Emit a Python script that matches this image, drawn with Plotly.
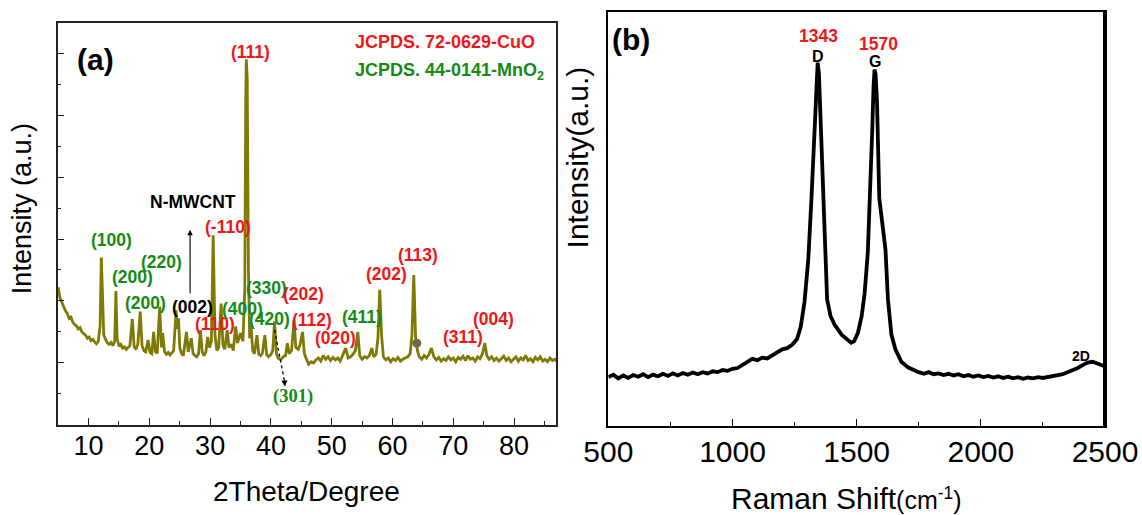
import plotly.graph_objects as go

# ---- (a) XRD pattern ----
xrd_two_theta = [
    5.0, 5.3, 5.6, 5.9, 6.2, 6.5, 6.8, 7.1, 7.4, 7.7,
    8.0, 8.3, 8.6, 8.9, 9.2, 9.5, 9.8, 10.1, 10.4, 10.7,
    11.0, 11.3, 11.6, 11.9, 12.1, 12.3, 12.5, 12.8, 13.1, 13.4,
    13.7, 14.0, 14.3, 14.5, 14.7, 15.0, 15.3, 15.6, 15.9, 16.2,
    16.5, 16.8, 17.2, 17.5, 17.8, 18.1, 18.5, 18.8, 19.1, 19.4,
    19.8, 20.1, 20.4, 20.7, 21.0, 21.3, 21.7, 22.0, 22.2, 22.5,
    22.8, 23.1, 23.4, 23.7, 24.0, 24.4, 24.6, 24.8, 25.0, 25.3,
    25.6, 26.1, 26.4, 26.9, 27.2, 27.5, 27.8, 28.1, 28.4, 28.7,
    29.0, 29.3, 29.6, 29.9, 30.2, 30.5, 30.8, 31.1, 31.4, 31.8,
    32.1, 32.4, 32.8, 33.1, 33.5, 33.8, 34.2, 34.5, 35.0, 35.4,
    35.7, 35.85, 35.95, 36.1, 36.3, 36.5, 36.7, 37.0, 37.3, 37.7,
    38.0, 38.3, 38.6, 39.0, 39.3, 39.6, 40.0, 40.3, 40.6, 40.9,
    41.2, 41.6, 42.0, 42.4, 42.7, 43.0, 43.4, 43.8, 44.1, 44.5,
    44.8, 45.2, 45.5, 45.9, 46.2, 46.6, 47.0, 47.4, 47.8, 48.2,
    48.6, 49.0, 49.4, 49.8, 50.2, 50.6, 51.0, 51.4, 51.8, 52.3,
    52.7, 53.1, 53.5, 53.9, 54.3, 54.6, 55.0, 55.4, 55.8, 56.2,
    56.6, 56.9, 57.3, 57.6, 57.9, 58.2, 58.5, 58.9, 59.3, 59.7,
    60.1, 60.5, 60.9, 61.3, 61.7, 62.1, 62.5, 62.9, 63.2, 63.5,
    63.8, 64.1, 64.4, 64.8, 65.2, 65.6, 66.0, 66.4, 66.8, 67.2,
    67.6, 68.0, 68.4, 68.8, 69.2, 69.6, 70.0, 70.4, 70.8, 71.2,
    71.6, 72.0, 72.4, 72.8, 73.2, 73.6, 74.0, 74.4, 74.8, 75.2,
    75.5, 75.9, 76.3, 76.7, 77.1, 77.5, 77.9, 78.3, 78.7, 79.1,
    79.5, 79.9, 80.3, 80.7, 81.1, 81.5, 81.9, 82.3, 82.7, 83.1,
    83.5, 83.9, 84.3, 84.7, 85.1, 85.5, 85.9, 86.3, 86.7, 87.0,
]
xrd_intensity = [
    2.22, 2.05, 1.98, 1.90, 1.84, 1.80, 1.72, 1.74, 1.66, 1.62,
    1.60, 1.55, 1.57, 1.50, 1.47, 1.45, 1.40, 1.42, 1.36, 1.38,
    1.34, 1.31, 1.35, 1.60, 2.70, 1.90, 1.45, 1.38, 1.32, 1.30,
    1.33, 1.28, 1.35, 2.16, 1.40, 1.27, 1.30, 1.24, 1.26, 1.22,
    1.25, 1.28, 1.71, 1.26, 1.22, 1.30, 1.83, 1.28, 1.20, 1.18,
    1.37, 1.17, 1.15, 1.50, 1.18, 1.16, 1.91, 1.25, 1.48, 1.18,
    1.14, 1.17, 1.13, 1.16, 1.20, 1.85, 1.55, 1.72, 1.25, 1.15,
    1.12, 1.50, 1.18, 1.40, 1.15, 1.12, 1.10, 1.15, 1.53, 1.18,
    1.12, 1.18, 1.42, 1.25, 1.35, 3.06, 1.45, 1.20, 1.25, 1.96,
    1.30, 1.22, 1.53, 1.25, 1.30, 1.20, 1.59, 1.32, 1.48, 1.35,
    2.20, 5.20, 5.90, 5.60, 2.50, 1.40, 1.64, 1.20, 1.15, 1.45,
    1.14, 1.12, 1.16, 1.45, 1.13, 1.10, 1.14, 1.20, 1.67, 1.15,
    1.08, 1.05, 1.10, 1.12, 1.32, 1.15, 1.20, 1.69, 1.25, 1.22,
    1.30, 1.50, 1.15, 1.05, 0.98, 1.02, 1.00, 1.05, 1.08, 1.03,
    1.12, 1.06, 1.10, 1.04, 1.09, 1.05, 1.08, 1.03, 1.12, 1.24,
    1.08, 1.10, 1.14, 1.20, 1.50, 1.12, 1.06, 1.10, 1.08, 1.12,
    1.24, 1.10, 1.14, 1.40, 2.18, 1.45, 1.10, 1.05, 1.08, 1.02,
    1.07, 1.04, 1.09, 1.03, 1.06, 1.08, 1.10, 1.15, 1.45, 2.42,
    1.40, 1.20, 1.10, 1.06, 1.12, 1.08, 1.14, 1.24, 1.10, 1.05,
    1.09, 1.03, 1.07, 1.04, 1.10, 1.05, 1.08, 1.02, 1.09, 1.06,
    1.11, 1.04, 1.12, 1.06, 1.08, 1.03, 1.10, 1.07, 1.15, 1.32,
    1.12, 1.06, 1.10, 1.04, 1.08, 1.03, 1.07, 1.11, 1.04, 1.08,
    1.02, 1.06, 1.10, 1.03, 1.08, 1.05, 1.12, 1.04, 1.07, 1.02,
    1.09, 1.05, 1.10, 1.03, 1.06, 1.02, 1.08, 1.04, 1.06, 1.03,
]
dot_two_theta = [64.0]
dot_intensity = [1.32]

# ---- (b) Raman spectrum ----
raman_shift = [
    500, 520, 540, 560, 580, 600, 620, 640, 660, 680,
    700, 720, 740, 760, 780, 800, 820, 840, 860, 880,
    900, 920, 940, 960, 980, 1000, 1020, 1040, 1060, 1080,
    1100, 1120, 1140, 1160, 1180, 1200, 1220, 1240, 1260, 1275,
    1290, 1305, 1318, 1330, 1338, 1343, 1348, 1356, 1364, 1371,
    1381, 1395, 1411, 1440, 1460, 1478, 1490, 1505, 1520, 1532,
    1545, 1555, 1563, 1568, 1572, 1576, 1582, 1591, 1603, 1616,
    1626, 1640, 1656, 1680, 1708, 1730, 1750, 1770, 1790, 1810,
    1830, 1850, 1870, 1890, 1910, 1930, 1950, 1970, 1990, 2010,
    2030, 2050, 2070, 2090, 2110, 2130, 2150, 2170, 2190, 2210,
    2230, 2250, 2270, 2290, 2310, 2330, 2350, 2370, 2390, 2410,
    2430, 2450, 2470, 2490, 2500,
]
raman_intensity = [
    11.8, 12.4, 11.5, 12.2, 11.6, 12.3, 11.9, 12.5, 11.8, 12.4,
    12.0, 12.6, 12.1, 12.7, 12.2, 12.8, 12.4, 12.9, 12.5, 13.0,
    12.7, 13.2, 13.0, 13.5, 13.3, 13.8, 14.0, 14.8, 15.5, 16.2,
    15.9, 16.5, 16.3, 17.0, 17.6, 18.5, 18.8, 19.6, 21.0, 24.0,
    30.0, 40.0, 55.0, 72.0, 84.0, 87.7, 85.0, 72.0, 55.0, 42.0,
    30.5, 26.5, 24.5, 22.0, 21.0, 20.1, 20.5, 22.5, 26.5, 32.0,
    42.0, 56.0, 72.0, 82.0, 86.0, 85.0, 78.0, 55.0, 48.5, 42.6,
    30.5, 22.0, 18.5, 15.5, 14.1, 13.4, 13.0, 12.6, 13.0, 12.5,
    12.7, 12.3, 12.6, 12.2, 12.5, 12.0, 12.3, 11.9, 12.2, 11.8,
    12.1, 11.7, 12.0, 11.6, 11.9, 11.5, 11.8, 11.4, 11.7, 11.5,
    11.8, 11.6, 11.9, 12.0, 12.3, 12.5, 13.0, 13.4, 14.0, 14.7,
    15.3, 15.5, 15.0, 14.6, 14.5,
]

SANS = "Liberation Sans, Arial, sans-serif"
SERIF = "Liberation Serif, Times New Roman, serif"
OLIVE = "#7f7a05"
RED = "#f21616"
GREEN = "#148a14"

fig = go.Figure()
fig.add_trace(go.Scatter(x=xrd_two_theta, y=xrd_intensity, mode="lines",
                         line=dict(color=OLIVE, width=2.8), xaxis="x", yaxis="y",
                         showlegend=False, hoverinfo="skip"))
fig.add_trace(go.Scatter(x=dot_two_theta, y=dot_intensity, mode="markers",
                         marker=dict(color="#6d6b45", size=9), xaxis="x", yaxis="y",
                         showlegend=False, hoverinfo="skip"))
# dotted pointer to (301)
fig.add_trace(go.Scatter(x=[40.6, 42.2], y=[1.53, 0.72], mode="lines",
                         line=dict(color="black", width=1.3, dash="dot"),
                         xaxis="x", yaxis="y", showlegend=False, hoverinfo="skip"))
fig.add_trace(go.Scatter(x=raman_shift, y=raman_intensity, mode="lines",
                         line=dict(color="black", width=3.8), xaxis="x2", yaxis="y2",
                         showlegend=False, hoverinfo="skip"))

ann = []

def label(text, x, y, color, size=17.5, ref="", family=SANS, bold=True):
    ann.append(dict(text="<b>%s</b>" % text if bold else text, x=x, y=y,
                    xref="x" + ref, yref="y" + ref, showarrow=False,
                    xanchor="center", yanchor="middle",
                    font=dict(family=family, size=size, color=color)))

# panel (a) labels
label("(a)", 11.1, 5.89, "black", size=30)
label("JCPDS. 72-0629-CuO", 68.7, 6.18, RED, size=18)
label("JCPDS. 44-0141-MnO<sub>2</sub>", 69.4, 5.70, GREEN, size=18)
label("(111)", 36.6, 6.02, RED)
label("N-MWCNT", 27.2, 3.60, "black", size=17.5)
label("(-110)", 33.0, 3.19, RED)
label("(100)", 13.8, 2.98, GREEN)
label("(220)", 22.0, 2.63, GREEN)
label("(200)", 17.2, 2.39, GREEN)
label("(200)", 19.3, 1.97, GREEN)
label("(002)", 27.1, 1.90, "black")
label("(110)", 30.8, 1.63, RED)
label("(400)", 35.3, 1.87, GREEN)
label("(330)", 39.3, 2.21, GREEN)
label("(420)", 39.8, 1.71, GREEN)
label("(202)", 45.4, 2.11, RED)
label("(112)", 46.8, 1.69, RED)
label("(411)", 54.9, 1.74, GREEN)
label("(020)", 50.6, 1.40, RED)
label("(202)", 59.0, 2.44, RED)
label("(113)", 64.2, 2.74, RED)
label("(311)", 71.6, 1.42, RED)
label("(004)", 76.6, 1.71, RED)
label("(301)", 43.7, 0.46, GREEN, size=18.5, family=SERIF)

# arrows in (a)
ann.append(dict(x=26.7, y=3.15, ax=26.7, ay=2.10, xref="x", yref="y", axref="x", ayref="y",
                showarrow=True, arrowhead=2, arrowsize=1, arrowwidth=1.1, arrowcolor="black", text=""))
ann.append(dict(x=42.3, y=0.62, ax=42.2, ay=0.74, xref="x", yref="y", axref="x", ayref="y",
                showarrow=True, arrowhead=2, arrowsize=1, arrowwidth=1.2, arrowcolor="black", text=""))

# panel (b) labels
label("(b)", 590, 93.2, "black", size=30, ref="2")
label("1343", 1345, 94.2, RED, size=17.5, ref="2")
label("D", 1344, 89.3, "black", size=16, ref="2")
label("1570", 1586, 92.3, RED, size=17.5, ref="2")
label("G", 1573, 87.9, "black", size=16, ref="2")
label("2D", 2403, 17.0, "black", size=14, ref="2")

# axis titles
def title(text, x, y, size, angle=0):
    ann.append(dict(text=text, x=x, y=y, xref="paper", yref="paper", textangle=angle,
                    xanchor="center", yanchor="middle", showarrow=False,
                    font=dict(family=SANS, size=size, color="black")))

title("Intensity (a.u.)", 0.0193, 0.594, 27, -90)
title("2Theta/Degree", 0.2686, 0.0452, 28)
title("Intensity(a.u.)", 0.506, 0.694, 30, -90)
title("Raman Shift<span style='font-size:25px'>(cm<sup>-1</sup>)</span>", 0.7412, 0.033, 30)

common = dict(showgrid=False, zeroline=False, showline=True, mirror=True)

fig.update_layout(
    width=1142, height=515,
    margin=dict(l=0, r=0, t=0, b=0, autoexpand=False),
    paper_bgcolor="white", plot_bgcolor="white",
    annotations=ann,
    xaxis=dict(domain=[0.0504, 0.4869], range=[4.9, 86.9], anchor="y",
               linecolor="#222222", linewidth=1.5, ticks="inside", ticklen=7,
               tickwidth=1.2, tickcolor="#222222", tick0=0, dtick=10,
               ticklabelstandoff=-4,
               tickfont=dict(family=SANS, size=27, color="black"),
               minor=dict(ticks="inside", ticklen=4, tick0=0, dtick=5,
                          tickcolor="#222222", showgrid=False), **common),
    yaxis=dict(domain=[0.1748, 0.9548], range=[0, 6.48], anchor="x",
               linecolor="#222222", linewidth=1.5, ticks="inside", ticklen=7,
               tickwidth=1.2, tickcolor="#222222", tick0=0, dtick=1,
               showticklabels=False,
               minor=dict(ticks="inside", ticklen=4, tick0=0, dtick=0.5,
                          tickcolor="#222222", showgrid=False), **common),
    xaxis2=dict(domain=[0.5327, 0.9676], range=[500, 2500], anchor="y2",
                linecolor="black", linewidth=1.5, ticks="inside", ticklen=7,
                tickwidth=1.2, tickcolor="black", tick0=0, dtick=500,
                ticklabelstandoff=-2,
                tickfont=dict(family=SANS, size=30, color="black"),
                minor=dict(ticks="inside", ticklen=4, tick0=0, dtick=250,
                           tickcolor="black", showgrid=False), **common),
    yaxis2=dict(domain=[0.1728, 0.9773], range=[0, 100], anchor="x2",
                linecolor="black", linewidth=1.5, ticks="", showticklabels=False, **common),
)

# heavier right frame of panel (b)
fig.add_shape(type="line", xref="x2 domain", yref="y2 domain", x0=1, x1=1, y0=0, y1=1,
              line=dict(color="black", width=4))

# the page's default body margin would shift the whole figure by 8px
fig.write_html("out.html", config={"displayModeBar": False},
               post_script="document.body.style.margin='0';")
